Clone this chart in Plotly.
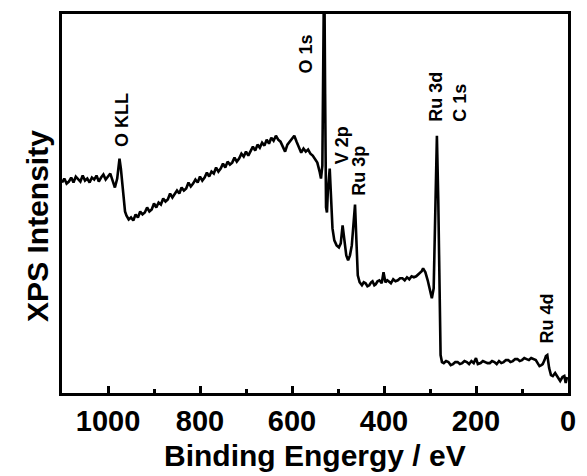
import plotly.graph_objects as go

# Binding energy (eV) and intensity (arb. units)
binding_energy = [
    1100, 1095, 1090, 1085, 1080, 1075, 1070, 1065, 1060, 1055, 1050, 1045, 1040, 1035, 1030, 1025,
    1020, 1015, 1010, 1005, 1000, 995, 990, 985, 980, 977, 975, 972, 969, 966, 963, 960,
    955, 950, 945, 940, 935, 930, 925, 920, 915, 910, 905, 900, 895, 890, 885, 880,
    875, 870, 865, 860, 855, 850, 845, 840, 835, 830, 825, 820, 815, 810, 805, 800,
    795, 790, 785, 780, 775, 770, 765, 760, 755, 750, 745, 740, 735, 730, 725, 720,
    715, 710, 705, 700, 695, 690, 685, 680, 675, 670, 665, 660, 655, 650, 645, 640,
    635, 630, 625, 620, 615, 610, 605, 600, 595, 590, 585, 580, 575, 570, 565, 560,
    555, 550, 545, 540, 537, 534, 532, 530, 528, 526, 524, 522, 518, 515, 512, 508,
    503, 498, 494, 490, 486, 482, 478, 474, 470, 466, 463, 460, 457, 453, 448, 444,
    440, 436, 432, 428, 425, 421, 418, 414, 410, 405, 401, 397, 393, 390, 385, 380,
    375, 370, 365, 360, 355, 350, 345, 340, 335, 330, 326, 322, 318, 315, 310, 305,
    300, 296, 292, 288, 285, 282, 279, 277, 274, 270, 265, 260, 255, 250, 245, 240,
    235, 230, 225, 220, 215, 210, 205, 200, 196, 190, 185, 180, 175, 170, 165, 160,
    155, 150, 145, 140, 135, 130, 125, 120, 115, 110, 105, 100, 95, 90, 85, 80,
    75, 70, 66, 62, 58, 55, 51, 48, 45, 41, 37, 33, 28, 22, 17, 12,
    8, 5, 2,
]
intensity = [
    211, 215, 210, 212, 216, 211, 217, 214, 212, 218, 213, 215, 211, 216, 214, 218,
    212, 216, 219, 214, 217, 220, 213, 206, 215, 230, 235, 225, 212, 192, 182, 178,
    174, 176, 173, 179, 176, 182, 179, 181, 186, 182, 184, 190, 186, 191, 189, 195,
    192, 194, 200, 196, 199, 203, 200, 206, 203, 205, 211, 207, 210, 214, 211, 217,
    213, 216, 221, 217, 222, 220, 226, 222, 225, 230, 226, 232, 229, 231, 236, 232,
    235, 240, 237, 242, 238, 243, 247, 243, 249, 246, 251, 248, 254, 250, 256, 253,
    258, 254, 252, 247, 242, 249, 252, 255, 258, 252, 246, 241, 245, 242, 244, 240,
    238, 235, 231, 222, 215, 228, 300, 440, 300, 186, 181, 203, 225, 198, 165, 153,
    148, 146, 150, 168, 153, 138, 133, 138, 148, 178, 189, 153, 118, 111, 108, 111,
    110, 107, 108, 111, 112, 108, 109, 112, 113, 110, 121, 111, 113, 112, 110, 114,
    112, 113, 115, 115, 113, 116, 114, 117, 116, 117, 119, 120, 122, 125, 121, 113,
    103, 95, 105, 193, 258, 193, 93, 38, 31, 30, 32, 31, 28, 29, 31, 31,
    29, 30, 32, 31, 29, 32, 30, 35, 29, 30, 32, 31, 30, 30, 32, 31,
    29, 32, 30, 31, 33, 33, 31, 32, 34, 34, 32, 33, 35, 34, 33, 35,
    34, 33, 30, 27, 28, 29, 33, 37, 38, 25, 18, 17, 20, 15, 12, 16,
    17, 10, 16,
]

x_tick_values = [1000, 800, 600, 400, 200, 0]
x_tick_labels = ["1000", "800", "600", "400", "200", "0"]

peak_labels = ["O KLL", "O 1s", "V 2p", "Ru 3p", "Ru 3d<br>C 1s", "Ru 4d"]
peak_label_x = [971, 569, 492, 456, 261, 45]
peak_label_y = [245, 318, 227, 196, 270, 48]

FONT = "Liberation Sans, Arial, sans-serif"

fig = go.Figure()
fig.add_trace(go.Scatter(
    x=binding_energy, y=intensity, mode="lines",
    line=dict(color="black", width=2.6), showlegend=False,
))

for txt, px, py in zip(peak_labels, peak_label_x, peak_label_y):
    fig.add_annotation(
        x=px, y=py, xref="x", yref="y", text=txt, showarrow=False,
        textangle=-90, xanchor="center", yanchor="bottom", align="left",
        font=dict(family=FONT, size=18, color="black", weight="bold"),
    )

fig.add_annotation(
    x=-0.0486, y=0.442, xref="paper", yref="paper", text="XPS Intensity",
    showarrow=False, textangle=-90, xanchor="center", yanchor="middle",
    font=dict(family=FONT, size=30, color="black", weight="bold"),
)
fig.add_annotation(
    x=0.5, y=-0.166, xref="paper", yref="paper", text="Binding Engergy / eV",
    showarrow=False, xanchor="center", yanchor="middle",
    font=dict(family=FONT, size=30, color="black", weight="bold"),
)

fig.update_xaxes(
    range=[1100, 0], tickmode="array", tickvals=x_tick_values, ticktext=x_tick_labels,
    ticks="inside", ticklen=7, tickwidth=2.5, tickcolor="black",
    minor=dict(ticks="inside", ticklen=4, tickwidth=2.5, tickcolor="black",
               tickmode="array", tickvals=[900, 700, 500, 300, 100]),
    showline=True, linewidth=3, linecolor="black", mirror=True,
    showgrid=False, zeroline=False,
    tickfont=dict(family=FONT, size=29, color="black", weight="bold"),
)
fig.update_yaxes(
    range=[0, 380], showticklabels=False, ticks="",
    showline=True, linewidth=3, linecolor="black", mirror=True,
    showgrid=False, zeroline=False,
)
fig.update_layout(
    width=587, height=476,
    margin=dict(l=62, r=11, t=13, b=83),
    plot_bgcolor="white", paper_bgcolor="white",
)

fig.write_html(
    "out.html",
    config={"displayModeBar": False},
    post_script="document.body.style.margin='0';document.body.style.padding='0';",
)
